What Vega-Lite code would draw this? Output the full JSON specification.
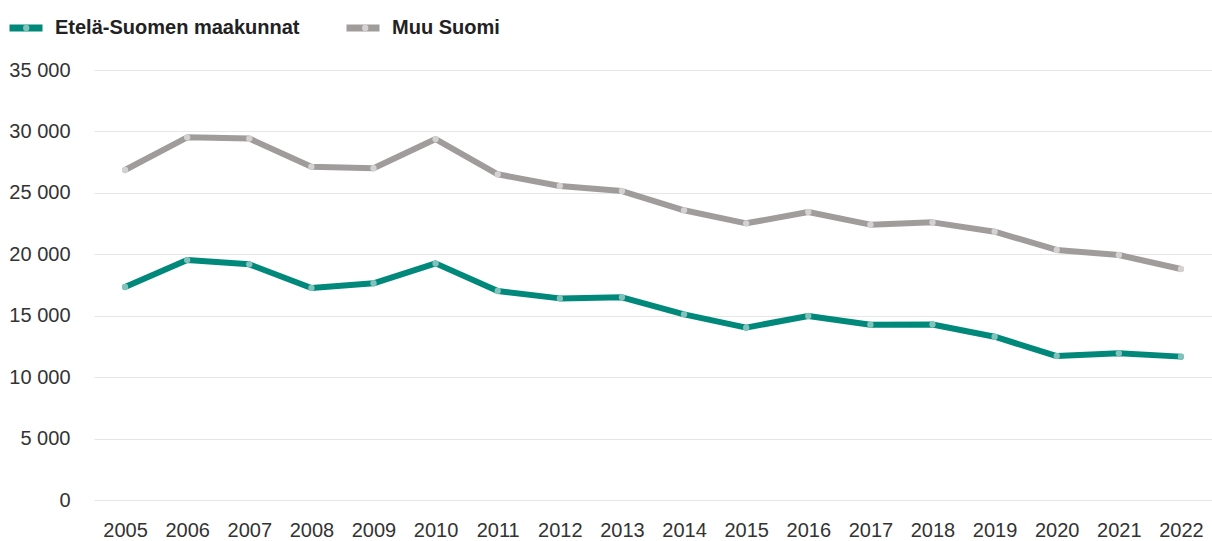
{
  "$schema": "https://vega.github.io/schema/vega-lite/v6.json",
  "width": 1118,
  "height": 430,
  "autosize": {"type": "none"},
  "padding": {"left": 94, "top": 70, "right": 0, "bottom": 41},
  "background": "white",
  "config": {
    "font": "Liberation Sans",
    "view": {"stroke": null}
  },
  "data": {
    "values": [
      {"year": "2005", "series": "Etelä-Suomen maakunnat", "value": 17340},
      {"year": "2006", "series": "Etelä-Suomen maakunnat", "value": 19530},
      {"year": "2007", "series": "Etelä-Suomen maakunnat", "value": 19180},
      {"year": "2008", "series": "Etelä-Suomen maakunnat", "value": 17260},
      {"year": "2009", "series": "Etelä-Suomen maakunnat", "value": 17640},
      {"year": "2010", "series": "Etelä-Suomen maakunnat", "value": 19260},
      {"year": "2011", "series": "Etelä-Suomen maakunnat", "value": 17010},
      {"year": "2012", "series": "Etelä-Suomen maakunnat", "value": 16410},
      {"year": "2013", "series": "Etelä-Suomen maakunnat", "value": 16500},
      {"year": "2014", "series": "Etelä-Suomen maakunnat", "value": 15110},
      {"year": "2015", "series": "Etelä-Suomen maakunnat", "value": 14030},
      {"year": "2016", "series": "Etelä-Suomen maakunnat", "value": 14980},
      {"year": "2017", "series": "Etelä-Suomen maakunnat", "value": 14270},
      {"year": "2018", "series": "Etelä-Suomen maakunnat", "value": 14290},
      {"year": "2019", "series": "Etelä-Suomen maakunnat", "value": 13290},
      {"year": "2020", "series": "Etelä-Suomen maakunnat", "value": 11720},
      {"year": "2021", "series": "Etelä-Suomen maakunnat", "value": 11940},
      {"year": "2022", "series": "Etelä-Suomen maakunnat", "value": 11670},
      {"year": "2005", "series": "Muu Suomi", "value": 26860},
      {"year": "2006", "series": "Muu Suomi", "value": 29520},
      {"year": "2007", "series": "Muu Suomi", "value": 29420},
      {"year": "2008", "series": "Muu Suomi", "value": 27130},
      {"year": "2009", "series": "Muu Suomi", "value": 27000},
      {"year": "2010", "series": "Muu Suomi", "value": 29380},
      {"year": "2011", "series": "Muu Suomi", "value": 26510},
      {"year": "2012", "series": "Muu Suomi", "value": 25560},
      {"year": "2013", "series": "Muu Suomi", "value": 25150},
      {"year": "2014", "series": "Muu Suomi", "value": 23580},
      {"year": "2015", "series": "Muu Suomi", "value": 22520},
      {"year": "2016", "series": "Muu Suomi", "value": 23440},
      {"year": "2017", "series": "Muu Suomi", "value": 22410},
      {"year": "2018", "series": "Muu Suomi", "value": 22600},
      {"year": "2019", "series": "Muu Suomi", "value": 21840},
      {"year": "2020", "series": "Muu Suomi", "value": 20350},
      {"year": "2021", "series": "Muu Suomi", "value": 19940},
      {"year": "2022", "series": "Muu Suomi", "value": 18800}
    ]
  },
  "encoding": {
    "x": {
      "field": "year",
      "type": "ordinal",
      "scale": {"type": "point", "padding": 0.5},
      "axis": {
        "title": null,
        "labelAngle": 0,
        "labelFontSize": 20,
        "labelColor": "#333333",
        "labelPadding": 20,
        "domain": false,
        "ticks": false,
        "grid": false
      }
    },
    "y": {
      "field": "value",
      "type": "quantitative",
      "scale": {"domain": [0, 35000], "nice": false},
      "axis": {
        "title": null,
        "values": [0, 5000, 10000, 15000, 20000, 25000, 30000, 35000],
        "labelExpr": "replace(format(datum.value, ','), ',', ' ')",
        "labelFontSize": 20,
        "labelColor": "#333333",
        "labelPadding": 24,
        "domain": false,
        "ticks": false,
        "grid": true,
        "gridColor": "#e6e6e6",
        "gridWidth": 1
      }
    }
  },
  "layer": [
    {
      "mark": {"type": "line", "strokeWidth": 6, "strokeCap": "round", "strokeJoin": "round"},
      "encoding": {
        "color": {
          "field": "series",
          "type": "nominal",
          "scale": {"domain": ["Etelä-Suomen maakunnat", "Muu Suomi"], "range": ["#00897a", "#a09c9c"]},
          "legend": {
            "title": null,
            "orient": "none",
            "legendX": -88,
            "legendY": -62,
            "direction": "horizontal",
            "symbolType": "stroke",
            "symbolSize": 1089,
            "symbolStrokeWidth": 7,
            "labelFontSize": 20,
            "labelFontWeight": "bold",
            "labelColor": "#222222",
            "labelOffset": 9,
            "columnPadding": 32,
            "labelLimit": 400
          }
        }
      }
    },
    {
      "mark": {"type": "point", "filled": true, "size": 40, "opacity": 1},
      "encoding": {
        "color": {
          "field": "series",
          "type": "nominal",
          "scale": {"domain": ["Etelä-Suomen maakunnat", "Muu Suomi"], "range": ["#7fc3bc", "#d3d1d1"]},
          "legend": {
            "title": null,
            "orient": "none",
            "legendX": -77.8,
            "legendY": -52,
            "direction": "horizontal",
            "symbolType": "circle",
            "symbolSize": 40,
            "symbolStrokeWidth": 0,
            "symbolOpacity": 1,
            "labelExpr": "''",
            "labelFontSize": 20,
            "labelOffset": 0,
            "columnPadding": 319
          }
        }
      }
    }
  ],
  "resolve": {"scale": {"color": "independent"}}
}
